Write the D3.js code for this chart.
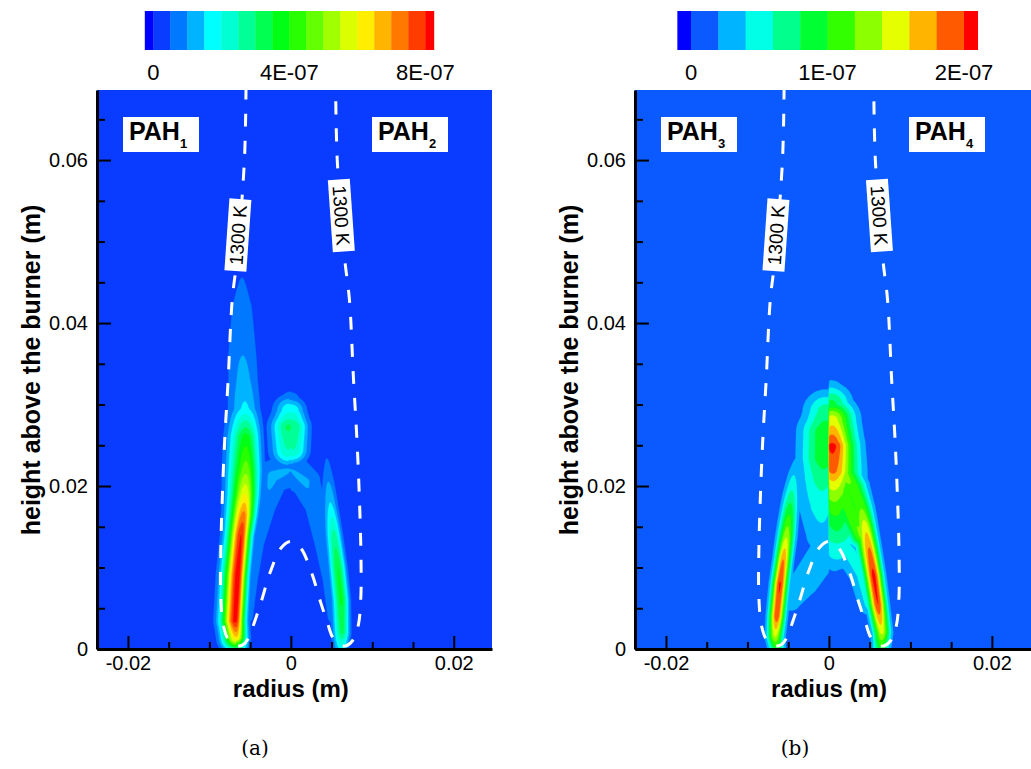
<!DOCTYPE html>
<html><head><meta charset="utf-8">
<script src="https://cdn.jsdelivr.net/npm/d3@7"></script>
<style>
body{margin:0;background:#fff;}
svg{display:block;}
</style></head><body>
<svg id="fig" width="1031" height="769"></svg>
<script>
// ---------------- data ----------------
// contour levels and band colours (band i lies between level i-1 and level i)
const levelsA = [0, 5e-8, 1e-7, 1.5e-7, 2e-7, 2.5e-7, 3e-7, 3.5e-7, 4e-7, 4.5e-7, 5e-7,
                 5.5e-7, 6e-7, 6.5e-7, 7e-7, 7.5e-7, 8e-7];
const colorsA = ["#0000ff", "#0a3cff", "#0078ff", "#00b4ff", "#00ffff", "#00ffd2", "#00ff96",
                 "#00ff50", "#00ff14", "#28ff00", "#64ff00", "#a0ff00", "#dcff00", "#ffee00",
                 "#ffb400", "#ff7800", "#ff3c00", "#ff0000"];
const cbarTicksA = [0, 4e-7, 8e-7];
const cbarLabelsA = ["0", "4E-07", "8E-07"];

const levelsB = [0, 2e-8, 4e-8, 6e-8, 8e-8, 1e-7, 1.2e-7, 1.4e-7, 1.6e-7, 1.8e-7, 2e-7];
const colorsB = ["#0000ff", "#0a5aff", "#00b4ff", "#00ffe6", "#00ff8c", "#00ff32", "#32ff00",
                 "#8cff00", "#e6ff00", "#ffb400", "#ff5a00", "#ff0000"];
const cbarTicksB = [0, 1e-7, 2e-7];
const cbarLabelsB = ["0", "1E-07", "2E-07"];

const xTicks = [-0.02, 0, 0.02];
const xMinorTicks = [-0.015, -0.01, -0.005, 0.005, 0.01, 0.015];
const yTicks = [0, 0.02, 0.04, 0.06];
const yMinorTicks = [0.005, 0.01, 0.015, 0.025, 0.03, 0.035, 0.045, 0.05, 0.055, 0.065];

// PAH mass-fraction ridges:
// [radius (m), height (m), peak value, spread toward -r (m), spread toward +r (m)]
const pah1Wing = [
  [-0.0064, 0.0000, 2.5e-7, 0.0011, 0.0008],
  [-0.0067, 0.0015, 6.5e-7, 0.0011, 0.0008],
  [-0.0068, 0.0035, 8.2e-7, 0.00115, 0.00075],
  [-0.0065, 0.0090, 8.3e-7, 0.00115, 0.00075],
  [-0.0061, 0.0140, 8.0e-7, 0.0011, 0.0008],
  [-0.0058, 0.0165, 7.2e-7, 0.0012, 0.0009],
  [-0.0056, 0.0190, 6.0e-7, 0.0013, 0.0010],
  [-0.0055, 0.0220, 4.8e-7, 0.0014, 0.0011],
  [-0.0055, 0.0260, 3.7e-7, 0.0014, 0.0011],
  [-0.0056, 0.0295, 1.6e-7, 0.0014, 0.0012],
  [-0.0058, 0.0330, 1.2e-7, 0.0014, 0.0013],
  [-0.0059, 0.0360, 1.0e-7, 0.0015, 0.0014],
  [-0.0060, 0.0420, 7.5e-8, 0.0013, 0.0013],
  [-0.0060, 0.0470, 4.0e-8, 0.0007, 0.0007]
];
const pah1Crest = [
  [-0.0003, 0.0245, 2.5e-7, 0.0014, 0.0013],
  [-0.0003, 0.0272, 3.1e-7, 0.0014, 0.0013],
  [-0.0002, 0.0292, 1.9e-7, 0.0013, 0.0012],
  [-0.0001, 0.0305, 8.0e-8, 0.0011, 0.0011]
];
const pah1Arch = [
  [0.0000, 0.0220, 1.0e-7, 0.0018, 0.0018],
  [-0.0022, 0.0212, 1.08e-7, 0.0016, 0.0016],
  [-0.0033, 0.0175, 9.0e-8, 0.0013, 0.0013],
  [-0.0042, 0.0130, 7.0e-8, 0.0011, 0.0011],
  [-0.0049, 0.0085, 7.0e-8, 0.0010, 0.0010],
  [-0.0054, 0.0040, 7.0e-8, 0.0009, 0.0009]
];

const pah2Wing = [
  [0.0062, 0.0000, 1.6e-7, 0.0007, 0.0006],
  [0.0063, 0.0020, 3.1e-7, 0.0007, 0.0006],
  [0.0062, 0.0060, 3.6e-7, 0.0007, 0.0006],
  [0.0058, 0.0100, 3.5e-7, 0.0007, 0.0006],
  [0.0053, 0.0140, 2.7e-7, 0.0007, 0.0006],
  [0.0049, 0.0175, 1.6e-7, 0.0007, 0.0006],
  [0.0046, 0.0205, 1.0e-7, 0.0006, 0.0006],
  [0.0044, 0.0237, 4.5e-8, 0.0004, 0.0004]
];
const pah2Crest = [
  [0.0003, 0.0245, 2.5e-7, 0.0013, 0.0012],
  [0.0003, 0.0272, 3.0e-7, 0.0013, 0.0012],
  [0.0002, 0.0292, 1.9e-7, 0.0012, 0.0011],
  [0.0001, 0.0305, 8.0e-8, 0.0011, 0.0010]
];
const pah2Arch = [
  [0.0000, 0.0220, 1.0e-7, 0.0018, 0.0018],
  [0.0018, 0.0205, 1.05e-7, 0.0015, 0.0015],
  [0.0030, 0.0175, 8.5e-8, 0.0012, 0.0012],
  [0.0040, 0.0130, 8.0e-8, 0.0011, 0.0011],
  [0.0049, 0.0085, 8.0e-8, 0.0010, 0.0010],
  [0.0054, 0.0040, 8.0e-8, 0.0009, 0.0009]
];

const pah3Wing = [
  [-0.0064, 0.0000, 9.0e-8, 0.00065, 0.00065],
  [-0.0066, 0.0015, 1.4e-7, 0.00065, 0.00065],
  [-0.0064, 0.0040, 1.95e-7, 0.00065, 0.00065],
  [-0.0060, 0.0080, 2.02e-7, 0.00065, 0.00065],
  [-0.0056, 0.0110, 1.8e-7, 0.00065, 0.00065],
  [-0.0052, 0.0140, 1.35e-7, 0.0007, 0.0007],
  [-0.0049, 0.0165, 1.0e-7, 0.0007, 0.0007],
  [-0.0046, 0.0190, 6.5e-8, 0.0007, 0.0007],
  [-0.0043, 0.0215, 3.8e-8, 0.0006, 0.0006],
  [-0.0040, 0.0236, 1.8e-8, 0.0004, 0.0004]
];
const pah3Crest = [
  [-0.0002, 0.0305, 3.0e-8, 0.0012, 0.0012],
  [-0.0004, 0.0290, 7.0e-8, 0.0018, 0.0018],
  [-0.0005, 0.0265, 9.5e-8, 0.0020, 0.0020],
  [-0.0006, 0.0235, 9.3e-8, 0.0020, 0.0020],
  [-0.0008, 0.0210, 7.0e-8, 0.0020, 0.0020],
  [-0.0010, 0.0175, 4.8e-8, 0.0020, 0.0020],
  [-0.0008, 0.0140, 3.4e-8, 0.0019, 0.0019]
];
const pah3Arch = [
  [-0.0003, 0.0122, 3.0e-8, 0.0021, 0.0021],
  [-0.0030, 0.0082, 3.0e-8, 0.0019, 0.0019],
  [-0.0046, 0.0058, 3.0e-8, 0.0012, 0.0012]
];

const pah4Wing = [
  [0.0064, 0.0000, 9.0e-8, 0.0007, 0.0007],
  [0.0065, 0.0020, 1.45e-7, 0.0007, 0.0007],
  [0.0060, 0.0055, 2.0e-7, 0.00075, 0.0007],
  [0.0055, 0.0090, 2.06e-7, 0.0008, 0.00072],
  [0.0050, 0.0120, 1.85e-7, 0.0009, 0.00075],
  [0.0045, 0.0148, 1.55e-7, 0.0010, 0.0008],
  [0.0040, 0.0172, 1.2e-7, 0.0011, 0.0009],
  [0.0030, 0.0198, 1.15e-7, 0.0013, 0.0011],
  [0.0015, 0.0218, 1.35e-7, 0.0015, 0.0014]
];
const pah4Crest = [
  [0.0002, 0.0332, 1.5e-8, 0.0012, 0.0012],
  [0.0003, 0.0300, 8.5e-8, 0.0016, 0.0016],
  [0.0004, 0.0280, 1.5e-7, 0.0018, 0.0018],
  [0.0004, 0.0248, 2.06e-7, 0.0019, 0.0019],
  [0.0005, 0.0220, 1.85e-7, 0.0020, 0.0020],
  [0.0006, 0.0195, 1.4e-7, 0.0021, 0.0021],
  [0.0008, 0.0170, 1.05e-7, 0.0021, 0.0021],
  [0.0010, 0.0145, 8.0e-8, 0.0020, 0.0020],
  [0.0010, 0.0122, 5.0e-8, 0.0018, 0.0018],
  [0.0007, 0.0105, 2.5e-8, 0.0014, 0.0014]
];
const pah4Arch = [
  [0.0008, 0.0205, 1.25e-7, 0.0016, 0.0016],
  [0.0025, 0.0172, 1.1e-7, 0.0014, 0.0014],
  [0.0040, 0.0140, 1.25e-7, 0.0011, 0.0011]
];
const pah4Base = [
  [0.0010, 0.0130, 5.0e-8, 0.0016, 0.0016],
  [0.0026, 0.0118, 4.5e-8, 0.0014, 0.0014],
  [0.0040, 0.0092, 4.5e-8, 0.0012, 0.0012],
  [0.0049, 0.0055, 4.5e-8, 0.0010, 0.0010]
];

// 1300 K isotherm, left half from the top edge down and back up to the axis
const iso1300 = [
  [-0.0055, 0.0690], [-0.0057, 0.0600], [-0.0066, 0.0480], [-0.0072, 0.0428],
  [-0.0077, 0.0330], [-0.0081, 0.0260], [-0.0084, 0.0190], [-0.0086, 0.0120],
  [-0.0086, 0.0065], [-0.0083, 0.0030], [-0.0077, 0.0012], [-0.0068, 0.0004],
  [-0.0059, 0.0005], [-0.0051, 0.0015], [-0.0045, 0.0032], [-0.0037, 0.0056],
  [-0.0025, 0.0095], [-0.0012, 0.0124], [0.0000, 0.0132]
];
// isotherm label anchors [radius, height, rotation]
const isoLabels = [[-0.0065, 0.0508, -86], [0.0062, 0.0532, 86]];

// ---------------- drawing ----------------
const svg = d3.select("#fig");
const defs = svg.append("defs");
const SANS = "'Liberation Sans', Arial, Helvetica, sans-serif";
const yScale = d3.scaleLinear([0, 0.0686], [649, 90]);

// value of one ridge: peak along the polyline, gaussian fall-off across it
function ridgeValue(ridge, r, z) {
  let best = 0;
  for (let k = 0; k < ridge.length - 1; k++) {
    const a = ridge[k], b = ridge[k + 1];
    const er = b[0] - a[0], ez = b[1] - a[1], L2 = er * er + ez * ez;
    let t = ((r - a[0]) * er + (z - a[1]) * ez) / L2;
    t = t < 0 ? 0 : t > 1 ? 1 : t;
    const pr = a[0] + t * er, pz = a[1] + t * ez;
    const d2 = (r - pr) * (r - pr) + (z - pz) * (z - pz);
    const v = a[2] + t * (b[2] - a[2]);
    const w = r < pr ? a[3] + t * (b[3] - a[3]) : a[4] + t * (b[4] - a[4]);
    const f = v * Math.exp(-0.5 * d2 / (w * w));
    if (f > best) best = f;
  }
  return best;
}
function fieldAt(ridges, r, z) {
  let m = 0;
  for (const rd of ridges) { const f = ridgeValue(rd, r, z); if (f > m) m = f; }
  return m;
}

function drawPanel(p) {
  const g = svg.append("g");
  const x = d3.scaleLinear(p.rDomain, [p.left, p.right]);
  const y = yScale;
  const top = y(0.0686), bottom = y(0);

  defs.append("clipPath").attr("id", "clip-" + p.id)
    .append("rect").attr("x", p.left).attr("y", top)
    .attr("width", p.right - p.left).attr("height", bottom - top);
  const plot = g.append("g").attr("clip-path", `url(#clip-${p.id})`);
  plot.append("rect").attr("x", p.left).attr("y", top)
    .attr("width", p.right - p.left).attr("height", bottom - top)
    .attr("fill", p.colors[1]);

  // sampled field: left of the axis one species, right of it the other
  const nx = 260, ny = 520, rMin = -0.0125, rMax = 0.0125, zMin = 0, zMax = 0.05;
  const dr = (rMax - rMin) / nx, dz = (zMax - zMin) / ny;
  const values = new Float64Array(nx * ny);
  for (let j = 0; j < ny; j++) {
    const z = zMin + (j + 0.5) * dz;
    for (let i = 0; i < nx; i++) {
      const r = rMin + (i + 0.5) * dr;
      values[j * nx + i] = fieldAt(r < 0 ? p.leftRidges : p.rightRidges, r, z);
    }
  }
  const contours = d3.contours().size([nx, ny]).thresholds(p.levels.slice(1))(values);
  const path = d3.geoPath();
  contours.forEach((c, k) => {
    const geom = {
      type: "MultiPolygon",
      coordinates: c.coordinates.map(poly => poly.map(ring => ring.map(pt =>
        [x(rMin + pt[0] * dr), y(zMin + pt[1] * dz)])))
    };
    plot.append("path").attr("d", path(geom)).attr("fill", p.colors[k + 2])
      .attr("stroke", p.colors[k + 2]).attr("stroke-width", 0.3);
  });

  // 1300 K isotherm
  const isoAll = iso1300.concat(iso1300.slice(0, -1).reverse().map(([r, z]) => [-r, z]));
  plot.append("path")
    .attr("d", d3.line().x(d => x(d[0])).y(d => y(d[1])).curve(d3.curveCatmullRom.alpha(0.5))(isoAll))
    .attr("fill", "none").attr("stroke", "#fff").attr("stroke-width", 3)
    .attr("stroke-dasharray", "13,14");

  isoLabels.forEach(([r, z, a]) => {
    const lg = plot.append("g").attr("transform", `translate(${x(r)},${y(z)}) rotate(${a})`);
    lg.append("rect").attr("x", -36).attr("y", -11).attr("width", 72).attr("height", 22).attr("fill", "#fff");
    lg.append("text").attr("text-anchor", "middle").attr("dy", "0.36em")
      .attr("font-family", SANS).attr("font-size", 19).attr("fill", "#000").text("1300 K");
  });

  // species labels
  p.tags.forEach(([name, sub, bx]) => {
    plot.append("rect").attr("x", bx).attr("y", 117).attr("width", 76).attr("height", 35).attr("fill", "#fff");
    const t = plot.append("text").attr("x", bx + 6).attr("y", 140)
      .attr("font-family", SANS).attr("font-weight", "bold").attr("font-size", 25).attr("fill", "#000");
    t.append("tspan").text(name);
    t.append("tspan").attr("font-size", 13).attr("dy", 8).text(sub);
  });

  // axes
  const fmt = v => v === 0 ? "0" : String(v);
  const xa = g.append("g").attr("transform", `translate(0,${bottom})`)
    .call(d3.axisBottom(x).tickValues(xTicks).tickFormat(fmt).tickSize(-13).tickSizeOuter(0).tickPadding(7));
  g.append("g").attr("transform", `translate(0,${bottom})`)
    .call(d3.axisBottom(x).tickValues(xMinorTicks).tickFormat("").tickSize(-7).tickSizeOuter(0))
    .select(".domain").remove();
  const ya = g.append("g").attr("transform", `translate(${p.left},0)`)
    .call(d3.axisLeft(y).tickValues(yTicks).tickFormat(fmt).tickSize(-14).tickSizeOuter(0).tickPadding(9));
  g.append("g").attr("transform", `translate(${p.left},0)`)
    .call(d3.axisLeft(y).tickValues(yMinorTicks).tickFormat("").tickSize(-8).tickSizeOuter(0))
    .select(".domain").remove();
  g.selectAll(".tick line").attr("stroke", "#000").attr("stroke-width", 2);
  g.selectAll(".domain").attr("stroke", "#000").attr("stroke-width", 3);
  [xa, ya].forEach(a => a.selectAll("text").attr("font-family", SANS).attr("font-size", 20).attr("fill", "#000"));

  g.append("text").attr("x", x(0)).attr("y", 697).attr("text-anchor", "middle")
    .attr("font-family", SANS).attr("font-weight", "bold").attr("font-size", 24).text("radius (m)");
  g.append("text").attr("transform", `translate(${p.left - 57},370) rotate(-90)`).attr("text-anchor", "middle")
    .attr("font-family", SANS).attr("font-weight", "bold").attr("font-size", 25).text("height above the burner (m)");

  // colour bar
  const cb = d3.scaleLinear([p.levels[0], p.levels[p.levels.length - 1]], p.cbarRange);
  const step = p.levels[1] - p.levels[0];
  const edges = [p.levels[0] - step / 2].concat(p.levels, [p.levels[p.levels.length - 1] + step / 2]);
  g.selectAll(null).data(p.colors).join("rect")
    .attr("x", (d, i) => cb(edges[i])).attr("y", 11)
    .attr("width", (d, i) => cb(edges[i + 1]) - cb(edges[i]) + 0.4).attr("height", 39)
    .attr("fill", d => d);
  g.selectAll(null).data(p.cbarTicks).join("text")
    .attr("x", d => cb(d)).attr("y", 80).attr("text-anchor", "middle")
    .attr("font-family", SANS).attr("font-size", 22).attr("fill", "#000")
    .text((d, i) => p.cbarLabels[i]);

  g.append("text").attr("x", p.captionX).attr("y", 755).attr("text-anchor", "middle")
    .attr("font-family", "'DejaVu Serif', 'Liberation Serif', serif").attr("font-size", 20)
    .text(p.caption);
}

drawPanel({
  id: "a", left: 97, right: 492, rDomain: [-0.0238, 0.0247],
  leftRidges: [pah1Wing, pah1Crest, pah1Arch], rightRidges: [pah2Wing, pah2Crest, pah2Arch],
  levels: levelsA, colors: colorsA, cbarRange: [153.3, 425.3],
  cbarTicks: cbarTicksA, cbarLabels: cbarLabelsA,
  tags: [["PAH", "1", 123], ["PAH", "2", 372]], caption: "(a)", captionX: 255
});
drawPanel({
  id: "b", left: 635, right: 1031, rDomain: [-0.0238, 0.0248],
  leftRidges: [pah3Wing, pah3Crest, pah3Arch], rightRidges: [pah4Wing, pah4Crest, pah4Arch, pah4Base],
  levels: levelsB, colors: colorsB, cbarRange: [691, 964],
  cbarTicks: cbarTicksB, cbarLabels: cbarLabelsB,
  tags: [["PAH", "3", 661], ["PAH", "4", 909]], caption: "(b)", captionX: 795
});
</script>
</body></html>
